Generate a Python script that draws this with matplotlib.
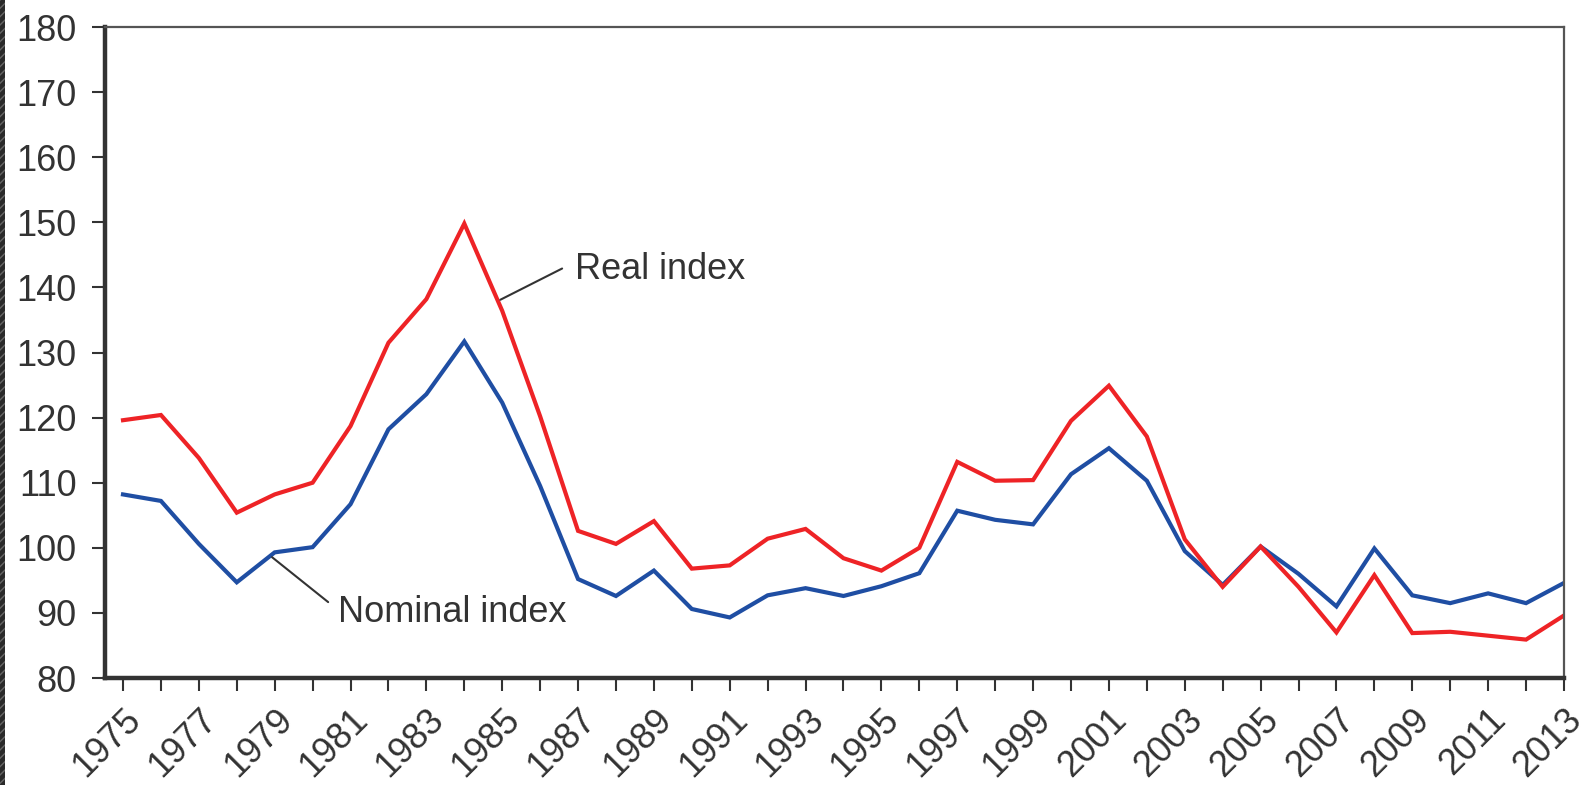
import numpy as np
import matplotlib.pyplot as plt
from matplotlib.patches import Rectangle

plt.rcParams['font.family'] = ['Liberation Sans', 'DejaVu Sans']

years = list(range(1975, 2014))

# Real index (red)
real_index = [119.6, 120.4, 113.8, 105.4, 108.2, 110.0, 118.7, 131.5, 138.2, 149.8,
              136.4, 120.2, 102.6, 100.6, 104.1, 96.8, 97.3, 101.4, 102.9, 98.4,
              96.5, 100.0, 113.2, 110.3, 110.4, 119.5, 124.9, 117.1, 101.3, 94.0,
              100.2, 94.0, 87.0, 95.8, 86.9, 87.1, 86.5, 85.9, 89.6]

# Nominal index (blue)
nominal_index = [108.2, 107.2, 100.6, 94.7, 99.3, 100.1, 106.7, 118.2, 123.6, 131.7,
                 122.3, 109.5, 95.2, 92.6, 96.5, 90.6, 89.3, 92.7, 93.8, 92.6,
                 94.1, 96.1, 105.7, 104.3, 103.6, 111.3, 115.3, 110.3, 99.5, 94.3,
                 100.2, 96.0, 91.0, 99.9, 92.7, 91.5, 93.0, 91.5, 94.6]

y_ticks = list(range(80, 190, 10))
x_labels = [str(y) if y % 2 == 1 else "" for y in years]

fig = plt.figure(figsize=(15.91, 7.85), dpi=100)
ax = fig.add_axes([0.066, 0.1363, 0.917, 0.8293])

ax.plot(years, nominal_index, color='#1f4ea3', lw=3.0, solid_joinstyle='miter')
ax.plot(years, real_index, color='#ee2326', lw=3.0, solid_joinstyle='miter')

ax.set_xlim(1974.525, 2013)
ax.set_ylim(80, 180)
ax.set_yticks(y_ticks)
ax.set_xticks(years)
ax.set_xticklabels(x_labels, rotation=45, ha='right', rotation_mode='anchor')

ax.tick_params(axis='both', direction='out', length=9.5, width=1.5,
               colors='#333333', labelsize=26, labelcolor='#333333')
ax.tick_params(axis='x', pad=8)
ax.tick_params(axis='y', pad=11)

for side in ['left', 'bottom']:
    ax.spines[side].set_linewidth(3.2)
    ax.spines[side].set_color('#333333')
for side in ['top', 'right']:
    ax.spines[side].set_linewidth(1.6)
    ax.spines[side].set_color('#555555')

# labels with leader lines
ax.text(1986.93, 142.7, 'Real index', fontsize=26, color='#333333',
        va='center', ha='left')
ax.annotate('', xy=(1984.95, 138.1), xytext=(1986.58, 142.9),
            arrowprops=dict(arrowstyle='-', color='#333333', lw=1.5,
                            shrinkA=0, shrinkB=0))
ax.text(1980.67, 90.1, 'Nominal index', fontsize=26, color='#333333',
        va='center', ha='left')
ax.annotate('', xy=(1978.93, 98.56), xytext=(1980.41, 91.66),
            arrowprops=dict(arrowstyle='-', color='#333333', lw=1.5,
                            shrinkA=0, shrinkB=0))

# dark strip at the left edge
fig.patches.append(Rectangle((0, 0), 5 / 1591, 1, transform=fig.transFigure,
                             facecolor='#2a2a2a', edgecolor='#666666',
                             hatch='////', lw=0))

plt.savefig("out.png", dpi=100)
plt.close()
